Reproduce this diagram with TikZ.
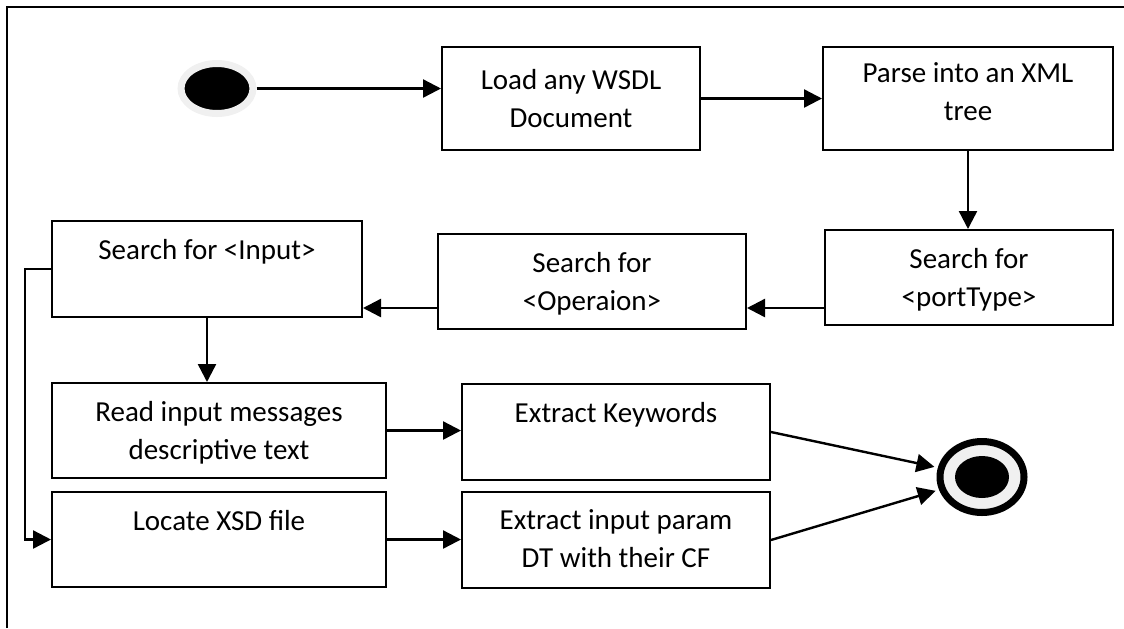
\documentclass[tikz,border=0pt]{standalone}
\usepackage{fontspec}
\setmainfont{Carlito}
\usetikzlibrary{arrows.meta,shapes.geometric}
\definecolor{halogray}{RGB}{240,240,240}
\newcommand{\boxtxt}[4][9pt]{\parbox[c][#3][t]{#2}{\centering\vspace{#1}#4}}

\begin{document}
\begin{tikzpicture}[x=0.5pt, y=-0.5pt,
    stepbox/.style={draw, line width=1pt, inner sep=0pt, font=\fontsize{14.5}{19}\selectfont},
    flow/.style={line width=1.2pt, -{Triangle[length=9pt,width=9pt]}},
    startdot/.style={ellipse, draw=halogray, line width=3.5pt, fill=black,
      minimum width=36pt, minimum height=25pt, inner sep=0pt},
    endring/.style={ellipse, draw, line width=3.5pt, fill=halogray,
      minimum width=42pt, minimum height=35.5pt, inner sep=0pt},
    enddot/.style={ellipse, fill=black, minimum width=27pt, minimum height=21pt, inner sep=0pt}]
    \useasboundingbox (0,0) rectangle (1124,628);
    \draw[line width=1pt] (7,628) -- (7,7) -- (1124,7);

    % start and end
    \node[startdot] (start) at (217,88.5) {};
    \node[endring] (finish) at (982,477) {};
    \node[enddot] (finishdot) at (finish) {};

    % the steps
    \node[stepbox] (load) at (571,98.5) {\boxtxt[11pt]{129pt}{51.5pt}{Load any WSDL\\Document}};
    \node[stepbox] (parse) at (968,98.5) {\boxtxt[8pt]{145pt}{51.5pt}{Parse into an XML\\tree}};
    \node[stepbox] (port) at (969,277.5) {\boxtxt{144pt}{47.5pt}{Search for\\{<}portType{>}}};
    \node[stepbox] (oper) at (592,281.5) {\boxtxt{154pt}{47.5pt}{Search for\\{<}Operaion{>}}};
    \node[stepbox] (input) at (207,269) {\boxtxt{155pt}{48pt}{Search for {<}Input{>}}};
    \node[stepbox] (read) at (219,430.5) {\boxtxt{167pt}{47.5pt}{Read input messages\\descriptive text}};
    \node[stepbox] (locate) at (219,539.5) {\boxtxt{167pt}{47.5pt}{Locate XSD file}};
    \node[stepbox] (keyw) at (616,432) {\boxtxt{154pt}{48pt}{Extract Keywords}};
    \node[stepbox] (param) at (616,540) {\boxtxt{154pt}{48pt}{Extract input param\\DT with their CF}};

    % connectors
    \draw[flow] (start.east) -- (start.east -| load.west);
    \draw[flow] (load.east) -- (parse.west);
    \draw[flow] (parse.south) -- (parse.south |- port.north);
    \draw[flow] ([yshift=-15.25pt]port.west) -- ([yshift=-15.25pt]port.west -| oper.east);
    \draw[flow] ([yshift=-13.25pt]oper.west) -- ([yshift=-13.25pt]oper.west -| input.east);
    \draw[flow] (input.south) -- (input.south |- read.north);
    \draw[flow] (input.west) -- ++(-26,0) |- (locate.west);
    \draw[flow] (read.east) -- (read.east -| keyw.west);
    \draw[flow] (locate.east) -- (locate.east -| param.west);
    \draw[flow, shorten >=1.75pt] (keyw.east) -- (finish);
    \draw[flow, shorten >=1.75pt] (param.east) -- (finish);
  \end{tikzpicture}
\end{document}
